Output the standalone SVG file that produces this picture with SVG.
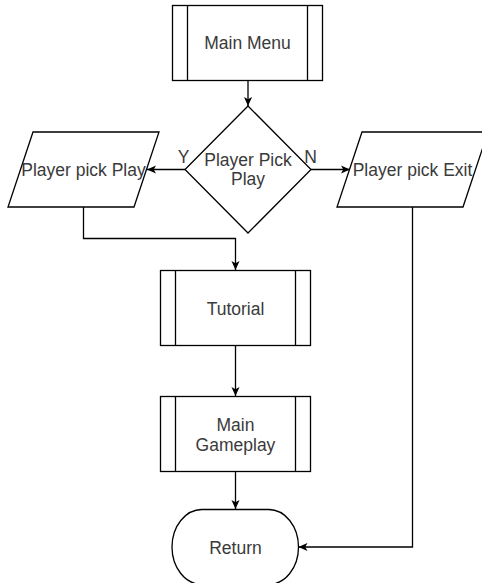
<svg xmlns="http://www.w3.org/2000/svg" width="482" height="583" viewBox="0 0 482 583">
  <style>
    .shape { fill: #ffffff; stroke: #000000; stroke-width: 1.3; }
    .div { fill: none; stroke: #000000; stroke-width: 1.3; }
    .edge { fill: none; stroke: #000000; stroke-width: 1.3; marker-end: url(#arrow); }
    .label { font-family: "Liberation Sans", Arial, Helvetica, sans-serif; font-size: 17.5px; fill: #3a3a3a; text-anchor: middle; }
  </style>
  <defs>
    <marker id="arrow" viewBox="0 0 10 10" refX="10" refY="5" markerWidth="9" markerHeight="9" markerUnits="userSpaceOnUse" orient="auto">
      <path d="M0,0.5 L10,5 L0,9.5 L2.5,5 Z" fill="#000000"/>
    </marker>
  </defs>

  <rect width="482" height="583" fill="#ffffff"/>

  <!-- connectors -->
  <g id="connectors">
    <path class="edge" d="M248,81 L248,106"/>
    <path class="edge" d="M185,169.5 L147,169.5"/>
    <path class="edge" d="M311,169.5 L350,169.5"/>
    <path class="edge" d="M83.5,207 L83.5,238.5 L235.5,238.5 L235.5,270"/>
    <path class="edge" d="M235.5,346 L235.5,396"/>
    <path class="edge" d="M235.5,472 L235.5,509"/>
    <path class="edge" d="M412.5,207 L412.5,547 L298.5,547"/>
  </g>

  <!-- predefined process: Main Menu -->
  <g id="main-menu">
    <rect class="shape" x="172.5" y="5.5" width="150" height="75"/>
    <path class="div" d="M187.5,5.5 V80.5 M307.5,5.5 V80.5"/>
    <text class="label" x="247.5" y="49">Main Menu</text>
  </g>

  <!-- decision -->
  <g id="player-pick-play">
    <polygon class="shape" points="248,106 311,169.5 248,233 185,169.5"/>
    <text class="label" x="248" y="166">Player Pick</text>
    <text class="label" x="248" y="185">Play</text>
  </g>

  <text class="label" x="183.5" y="163">Y</text>
  <text class="label" x="310.5" y="163">N</text>

  <!-- data: Player pick Play -->
  <g id="player-pick-play-io">
    <polygon class="shape" points="33,132 159,132 134,207 8,207"/>
    <text class="label" x="83.5" y="176">Player pick Play</text>
  </g>

  <!-- data: Player pick Exit -->
  <g id="player-pick-exit">
    <polygon class="shape" points="362,132 488,132 463,207 337,207"/>
    <text class="label" x="412.5" y="176">Player pick Exit</text>
  </g>

  <!-- predefined process: Tutorial -->
  <g id="tutorial">
    <rect class="shape" x="160.5" y="270.5" width="150" height="75"/>
    <path class="div" d="M175.5,270.5 V345.5 M295.5,270.5 V345.5"/>
    <text class="label" x="235.5" y="315">Tutorial</text>
  </g>

  <!-- predefined process: Main Gameplay -->
  <g id="main-gameplay">
    <rect class="shape" x="160.5" y="396.5" width="150" height="75"/>
    <path class="div" d="M175.5,396.5 V471.5 M295.5,396.5 V471.5"/>
    <text class="label" x="235.5" y="430.5">Main</text>
    <text class="label" x="235.5" y="451">Gameplay</text>
  </g>

  <!-- terminator: Return -->
  <g id="return">
    <rect class="shape" x="172" y="509.5" width="126.5" height="75" rx="30" ry="37.5"/>
    <text class="label" x="235.5" y="554">Return</text>
  </g>
</svg>
